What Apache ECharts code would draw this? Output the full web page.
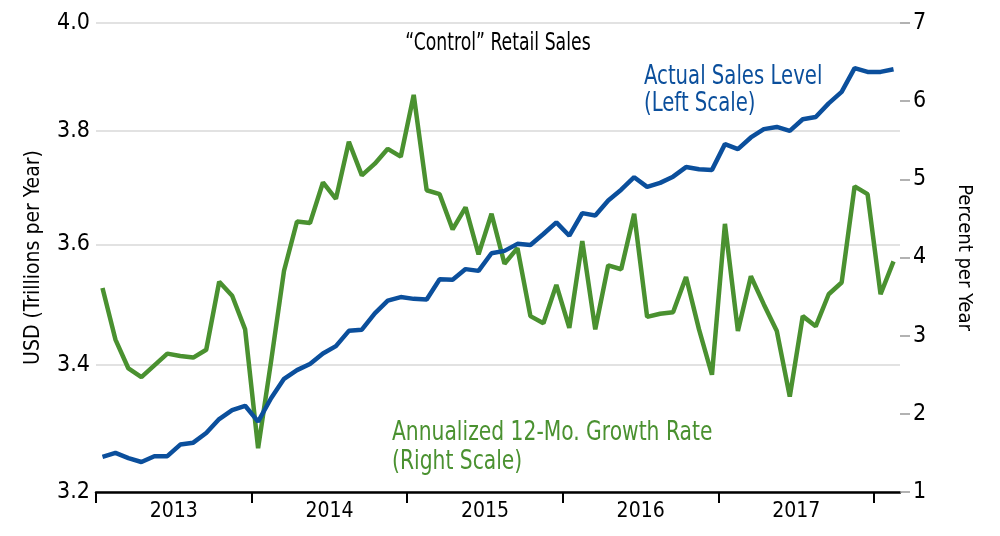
<!DOCTYPE html>
<html>
<head>
<meta charset="utf-8">
<script src="https://cdn.jsdelivr.net/npm/echarts@6/dist/echarts.min.js"></script>
<style>
  html, body { margin: 0; padding: 0; background: #fff; }
  #chart { width: 1000px; height: 536px; }
</style>
</head>
<body>
<div id="chart"></div>
<script>
  const FONT = '"DejaVu Sans Condensed", "Liberation Sans Narrow", "Roboto", sans-serif';
  const BLUE = '#0b4f9c';
  const GREEN = '#4a9130';

  // monthly, Jan 2013 .. Feb 2018
  const years = ['2013', '2014', '2015', '2016', '2017'];
  const months = [];
  years.concat(['2018']).forEach(y => {
    for (let m = 1; m <= 12; m++) months.push(y + '-' + String(m).padStart(2, '0'));
  });
  months.length = 62;

  // USD trillions per year (left, log scale)
  const salesLevel = [
    3.254, 3.260, 3.252, 3.246, 3.255, 3.255, 3.273, 3.276, 3.291, 3.313, 3.327, 3.334,
    3.309, 3.346, 3.377, 3.391, 3.401, 3.418, 3.430, 3.455, 3.457, 3.484, 3.505, 3.511,
    3.508, 3.507, 3.541, 3.540, 3.558, 3.555, 3.585, 3.589, 3.601, 3.599, 3.618, 3.638,
    3.615, 3.654, 3.650, 3.676, 3.695, 3.717, 3.700, 3.707, 3.718, 3.735, 3.731, 3.730,
    3.776, 3.767, 3.788, 3.803, 3.807, 3.800, 3.821, 3.825, 3.850, 3.871, 3.915, 3.908,
    3.908, 3.913
  ];

  // percent per year (right)
  const growthRate = [
    3.61, 2.95, 2.58, 2.47, 2.62, 2.77, 2.74, 2.72, 2.82, 3.69, 3.51, 3.08,
    1.56, 2.67, 3.83, 4.46, 4.44, 4.96, 4.75, 5.48, 5.05, 5.20, 5.39, 5.29,
    6.08, 4.86, 4.81, 4.36, 4.64, 4.04, 4.56, 3.92, 4.12, 3.25, 3.16, 3.65,
    3.10, 4.21, 3.08, 3.90, 3.85, 4.56, 3.24, 3.28, 3.30, 3.75, 3.08, 2.50,
    4.43, 3.06, 3.76, 3.40, 3.06, 2.22, 3.25, 3.12, 3.53, 3.68, 4.91, 4.81,
    3.53, 3.95
  ];

  const leftTicks = [3.2, 3.4, 3.6, 3.8, 4.0];
  const yearStarts = [0, 12, 24, 36, 48, 60];
  const yearMids = [6, 18, 30, 42, 54];

  const chart = echarts.init(document.getElementById('chart'));

  const option = {
    animation: false,
    textStyle: { fontFamily: FONT },
    grid: { left: 96, right: 100, top: 23, bottom: 44 },
    xAxis: [
      {
        type: 'category',
        data: months,
        boundaryGap: true,
        axisLine: { lineStyle: { color: '#000', width: 2.5 } },
        axisTick: { show: false },
        axisLabel: { show: false },
        splitLine: { show: false }
      },
      {
        type: 'value',
        position: 'bottom',
        min: 0,
        max: months.length,
        axisLine: { show: false },
        axisTick: {
          customValues: yearStarts,
          length: 11,
          lineStyle: { color: '#000', width: 2 }
        },
        axisLabel: {
          customValues: yearMids,
          formatter: v => years[(v - 6) / 12],
          fontSize: 21,
          color: '#000',
          margin: 9,
          fontFamily: FONT
        },
        splitLine: { show: false }
      }
    ],
    yAxis: [
      {
        type: 'log',
        logBase: 10,
        min: 3.2,
        max: 4.0,
        position: 'left',
        axisLine: { show: false },
        axisTick: { show: false, customValues: leftTicks },
        axisLabel: {
          customValues: leftTicks,
          formatter: v => v.toFixed(1),
          fontSize: 23,
          color: '#000',
          margin: 6,
          fontFamily: FONT
        },
        splitLine: { lineStyle: { color: '#d9d9d9', width: 1.5 } },
        name: 'USD (Trillions per Year)',
        nameLocation: 'middle',
        nameRotate: 90,
        nameGap: 52,
        nameTextStyle: { fontSize: 21, color: '#000', fontFamily: FONT }
      },
      {
        type: 'value',
        min: 1,
        max: 7,
        interval: 1,
        position: 'right',
        axisLine: { show: false },
        axisTick: { show: true, length: 10, lineStyle: { color: '#999', width: 1.5 } },
        axisLabel: { fontSize: 23, color: '#000', margin: 13, fontFamily: FONT },
        splitLine: { show: false },
        name: 'Percent per Year',
        nameLocation: 'middle',
        nameRotate: -90,
        nameGap: 54,
        nameTextStyle: { fontSize: 20, color: '#000', fontFamily: FONT }
      }
    ],
    series: [
      {
        name: 'Annualized 12-Mo. Growth Rate',
        type: 'line',
        xAxisIndex: 0,
        yAxisIndex: 1,
        data: growthRate,
        symbol: 'none',
        lineStyle: { color: GREEN, width: 4.5 },
        itemStyle: { color: GREEN }
      },
      {
        name: 'Actual Sales Level',
        type: 'line',
        xAxisIndex: 0,
        yAxisIndex: 0,
        data: salesLevel,
        symbol: 'none',
        lineStyle: { color: BLUE, width: 4.5 },
        itemStyle: { color: BLUE }
      }
    ],
    graphic: [
      {
        type: 'text', x: 498, y: 44, scaleX: 0.8,
        style: { text: '\u201CControl\u201D Retail Sales', font: '24px ' + FONT, fill: '#000', align: 'center', verticalAlign: 'middle' }
      },
      {
        type: 'text', x: 644, y: 77, scaleX: 0.81,
        style: { text: 'Actual Sales Level', font: '27px ' + FONT, fill: BLUE, align: 'left', verticalAlign: 'middle' }
      },
      {
        type: 'text', x: 644, y: 104, scaleX: 0.81,
        style: { text: '(Left Scale)', font: '27px ' + FONT, fill: BLUE, align: 'left', verticalAlign: 'middle' }
      },
      {
        type: 'text', x: 392, y: 433, scaleX: 0.835,
        style: { text: 'Annualized 12-Mo. Growth Rate', font: '27px ' + FONT, fill: GREEN, align: 'left', verticalAlign: 'middle' }
      },
      {
        type: 'text', x: 392, y: 462, scaleX: 0.835,
        style: { text: '(Right Scale)', font: '27px ' + FONT, fill: GREEN, align: 'left', verticalAlign: 'middle' }
      }
    ]
  };

  chart.setOption(option);
</script>
</body>
</html>
